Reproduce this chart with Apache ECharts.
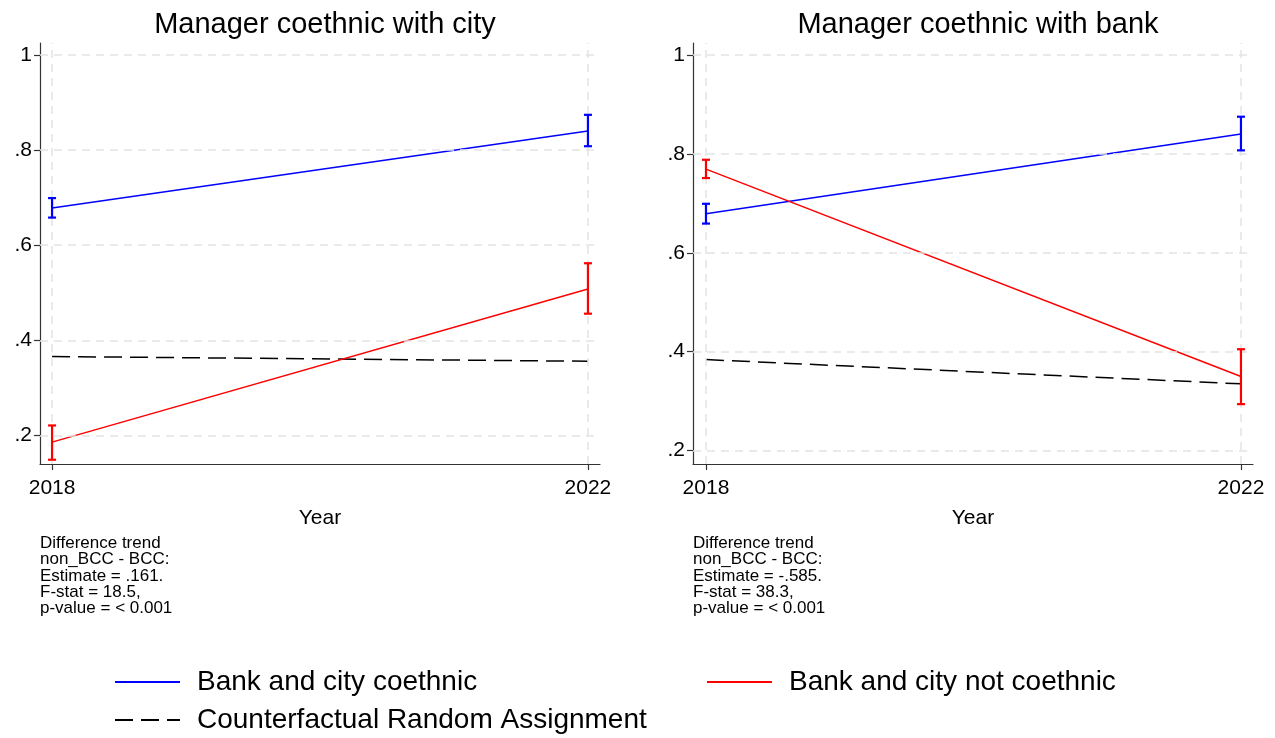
<!DOCTYPE html>
<html>
<head>
<meta charset="utf-8">
<script src="https://cdn.jsdelivr.net/npm/echarts@6/dist/echarts.min.js"></script>
<style>
  html, body { margin: 0; padding: 0; background: #fff; }
  #chart { width: 1275px; height: 738px; }
</style>
</head>
<body>
<div id="chart"></div>
<script>
// Survey years on the x axis
const years = [2018, 2022];
const yTicks = [0.2, 0.4, 0.6, 0.8, 1];

// Panel 1: manager coethnic with city
const cityCoethMean = [0.678, 0.840];
const cityCoethLow = [0.658, 0.808];
const cityCoethHigh = [0.699, 0.874];
const cityNotMean = [0.186, 0.508];
const cityNotLow = [0.149, 0.456];
const cityNotHigh = [0.221, 0.562];
const cityCounterfactual = [0.366, 0.356];

// Panel 2: manager coethnic with bank
const bankCoethMean = [0.679, 0.840];
const bankCoethLow = [0.659, 0.807];
const bankCoethHigh = [0.699, 0.875];
const bankNotMean = [0.769, 0.350];
const bankNotLow = [0.751, 0.294];
const bankNotHigh = [0.788, 0.405];
const bankCounterfactual = [0.384, 0.335];

const titles = ['Manager coethnic with city', 'Manager coethnic with bank'];
const notes = [
  ['Difference trend', 'non_BCC - BCC:', 'Estimate = .161.', 'F-stat = 18.5,', 'p-value = < 0.001'],
  ['Difference trend', 'non_BCC - BCC:', 'Estimate = -.585.', 'F-stat = 38.3,', 'p-value = < 0.001']
];
const seriesNames = ['Bank and city coethnic', 'Bank and city not coethnic', 'Counterfactual Random Assignment'];

const FONT = 'Liberation Sans, Arial, Helvetica, sans-serif';
const BLUE = '#0000ff', RED = '#ff0000', BLACK = '#000000';
const DASH = [18, 8];

const pair = (xs, ys) => xs.map((x, i) => [x, ys[i]]);
const triple = (xs, lo, hi) => xs.map((x, i) => [x, lo[i], hi[i]]);

// Capped vertical interval drawn from [x, low, high]
function errorBarItem(params, api) {
  const x = api.value(0);
  const lo = api.coord([x, api.value(1)]);
  const hi = api.coord([x, api.value(2)]);
  const half = 4;
  const style = { stroke: api.visual('color'), lineWidth: 2.2 };
  return {
    type: 'group',
    children: [
      { type: 'line', shape: { x1: lo[0], y1: lo[1], x2: hi[0], y2: hi[1] }, style: style },
      { type: 'line', shape: { x1: lo[0] - half, y1: lo[1], x2: lo[0] + half, y2: lo[1] }, style: style },
      { type: 'line', shape: { x1: hi[0] - half, y1: hi[1], x2: hi[0] + half, y2: hi[1] }, style: style }
    ]
  };
}

const grids = [
  { left: 40, top: 43, width: 560, height: 421 },
  { left: 693, top: 43, width: 560, height: 421 }
];
const xRanges = [[2017.91, 2022.09], [2017.903, 2022.09]];
const yRanges = [[0.14, 1.025], [0.173, 1.024]];

const panels = [
  { coeth: [cityCoethMean, cityCoethLow, cityCoethHigh], not: [cityNotMean, cityNotLow, cityNotHigh], cf: cityCounterfactual },
  { coeth: [bankCoethMean, bankCoethLow, bankCoethHigh], not: [bankNotMean, bankNotLow, bankNotHigh], cf: bankCounterfactual }
];

const axisColor = '#333';
const gridLineStyle = { color: '#e4e4e4', width: 1.5, type: [8, 6] };

const xAxes = [], yAxes = [], series = [], graphics = [], titleList = [];

panels.forEach((p, i) => {
  xAxes.push({
    type: 'value', gridIndex: i, min: xRanges[i][0], max: xRanges[i][1],
    name: 'Year', nameLocation: 'middle', nameGap: 44,
    nameTextStyle: { fontFamily: FONT, fontSize: 21, color: '#000' },
    axisLine: { show: true, onZero: false, lineStyle: { color: axisColor, width: 1.2 } },
    axisTick: { show: true, length: 6, customValues: years, lineStyle: { color: axisColor, width: 1.2 } },
    axisLabel: { customValues: years, margin: 14, fontFamily: FONT, fontSize: 21, color: '#000', formatter: v => String(Math.round(v)) },
    splitLine: { show: false }
  });
  yAxes.push({
    type: 'value', gridIndex: i, min: yRanges[i][0], max: yRanges[i][1],
    axisLine: { show: true, onZero: false, lineStyle: { color: axisColor, width: 1.2 } },
    axisTick: { show: true, length: 6, customValues: yTicks, lineStyle: { color: axisColor, width: 1.2 } },
    axisLabel: {
      customValues: yTicks, margin: 8, fontFamily: FONT, fontSize: 21, color: '#000',
      formatter: v => (Math.abs(v - 1) < 1e-9 ? '1' : String(Number(v.toFixed(1))).replace(/^0/, ''))
    },
    splitLine: { show: false }
  });
  titleList.push({
    text: titles[i], left: grids[i].left + grids[i].width / 2, top: 5, textAlign: 'center',
    textStyle: { fontFamily: FONT, fontSize: 29, fontWeight: 'normal', color: '#000' }
  });

  // reference grid lines at the tick positions
  series.push({
    type: 'line', xAxisIndex: i, yAxisIndex: i, data: [], silent: true, z: 1,
    markLine: {
      silent: true, symbol: 'none', label: { show: false },
      lineStyle: gridLineStyle, animation: false,
      data: yTicks.map(v => ({ yAxis: v })).concat(years.map(v => ({ xAxis: v })))
    }
  });

  series.push({
    name: seriesNames[2], type: 'line', xAxisIndex: i, yAxisIndex: i, z: 3,
    data: pair(years, p.cf), symbol: 'none',
    lineStyle: { color: BLACK, width: 1.5, type: DASH }, itemStyle: { color: BLACK }
  });
  series.push({
    name: seriesNames[0], type: 'line', xAxisIndex: i, yAxisIndex: i, z: 4,
    data: pair(years, p.coeth[0]), symbol: 'none',
    lineStyle: { color: BLUE, width: 1.5 }, itemStyle: { color: BLUE }
  });
  series.push({
    name: seriesNames[1], type: 'line', xAxisIndex: i, yAxisIndex: i, z: 4,
    data: pair(years, p.not[0]), symbol: 'none',
    lineStyle: { color: RED, width: 1.5 }, itemStyle: { color: RED }
  });
  series.push({
    type: 'custom', xAxisIndex: i, yAxisIndex: i, z: 5, renderItem: errorBarItem,
    itemStyle: { color: BLUE }, data: triple(years, p.coeth[1], p.coeth[2])
  });
  series.push({
    type: 'custom', xAxisIndex: i, yAxisIndex: i, z: 5, renderItem: errorBarItem,
    itemStyle: { color: RED }, data: triple(years, p.not[1], p.not[2])
  });

  graphics.push({
    type: 'text', left: grids[i].left, top: 535,
    style: { text: notes[i].join('\n'), fontFamily: FONT, fontSize: 17, lineHeight: 16.3, fill: '#000' }
  });
});

// Key below the panels: line sample followed by its label
const keyEntries = [
  { name: seriesNames[0], color: BLUE, dash: null, x: 115, y: 682 },
  { name: seriesNames[1], color: RED, dash: null, x: 707, y: 682 },
  { name: seriesNames[2], color: BLACK, dash: DASH, x: 115, y: 720 }
];
keyEntries.forEach(k => {
  graphics.push({
    type: 'line', shape: { x1: k.x, y1: k.y, x2: k.x + 65, y2: k.y },
    style: { stroke: k.color, lineWidth: 1.8, lineDash: k.dash || null }
  });
  graphics.push({
    type: 'text', x: k.x + 82, y: k.y,
    style: { text: k.name, fontFamily: FONT, fontSize: 28, fill: '#000', verticalAlign: 'middle', align: 'left' }
  });
});

const chart = echarts.init(document.getElementById('chart'), null, { renderer: 'canvas' });
chart.setOption({
  animation: false,
  backgroundColor: '#fff',
  title: titleList,
  grid: grids,
  xAxis: xAxes,
  yAxis: yAxes,
  graphic: graphics,
  series: series
});
</script>
</body>
</html>
